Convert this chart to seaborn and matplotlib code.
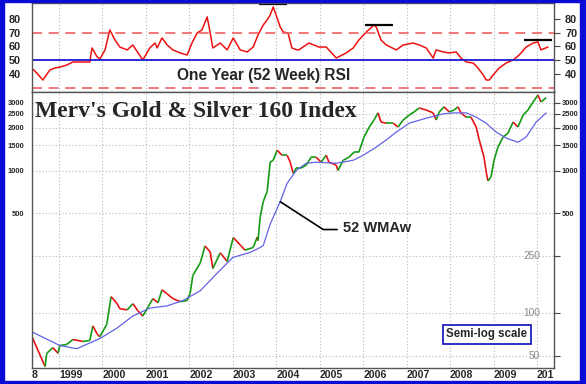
import numpy as np
import matplotlib
matplotlib.use('Agg')
import matplotlib.pyplot as plt
from matplotlib.patches import Rectangle
from matplotlib.ticker import NullLocator
import seaborn as sns

# ── Data (decimal years) ────────────────────────────────────────────
idx_year = [1998.38, 1998.68, 1998.72, 1998.86, 1998.98, 1999.02, 1999.18, 1999.32,
            1999.55, 1999.71, 1999.78, 1999.88, 1999.94, 2000.10, 2000.20, 2000.34,
            2000.40, 2000.57, 2000.70, 2000.82, 2000.93, 2001.05, 2001.16, 2001.28,
            2001.37, 2001.49, 2001.62, 2001.79, 2001.95, 2002.02, 2002.08, 2002.25,
            2002.36, 2002.48, 2002.54, 2002.71, 2002.87, 2003.01, 2003.17, 2003.28,
            2003.47, 2003.56, 2003.58, 2003.63, 2003.70, 2003.79, 2003.86, 2003.93,
            2004.02, 2004.13, 2004.25, 2004.32, 2004.39, 2004.46, 2004.57, 2004.69,
            2004.80, 2004.92, 2005.03, 2005.15, 2005.21, 2005.38, 2005.42, 2005.54,
            2005.67, 2005.79, 2005.90, 2006.02, 2006.14, 2006.25, 2006.34, 2006.41,
            2006.53, 2006.69, 2006.80, 2006.92, 2007.06, 2007.17, 2007.29, 2007.45,
            2007.61, 2007.68, 2007.75, 2007.86, 2007.98, 2008.09, 2008.18, 2008.25,
            2008.37, 2008.48, 2008.60, 2008.67, 2008.78, 2008.83, 2008.87, 2008.94,
            2009.01, 2009.10, 2009.22, 2009.33, 2009.45, 2009.56, 2009.68, 2009.79,
            2009.91, 2010.02, 2010.09, 2010.21]
idx_val = [68, 42, 52, 57, 52, 59, 60, 65,
           63, 64, 81, 71, 68, 83, 130, 116,
           107, 105, 116, 103, 95, 110, 126, 118,
           145, 136, 126, 120, 122, 138, 183, 224,
           295, 268, 205, 264, 230, 338, 300, 276,
           288, 340, 322, 470, 604, 713, 1144, 1180,
           1390, 1280, 1280, 1144, 955, 1040, 1040, 1090,
           1240, 1240, 1144, 1280, 1144, 1090, 1000, 1180,
           1240, 1345, 1345, 1720, 2020, 2265, 2540, 2190,
           2150, 2150, 2020, 2265, 2450, 2580, 2750, 2660,
           2540, 2265, 2580, 2800, 2580, 2660, 2800, 2540,
           2370, 2370, 2020, 1640, 1240, 975, 845, 900,
           1180, 1460, 1720, 1830, 2190, 2020, 2450, 2660,
           3030, 3390, 3030, 3250]

ma_year = [1998.38, 1999.02, 1999.41, 1999.94, 2000.33, 2000.70, 2001.09, 2001.49,
           2001.85, 2002.25, 2002.64, 2003.00, 2003.40, 2003.63, 2003.70, 2003.86,
           2004.09, 2004.25, 2004.46, 2004.69, 2004.92, 2005.38, 2005.77, 2006.00,
           2006.30, 2006.53, 2006.76, 2007.06, 2007.45, 2007.84, 2008.07, 2008.37,
           2008.60, 2008.83, 2009.06, 2009.29, 2009.56, 2009.75, 2009.98, 2010.21]
ma_val = [73.5, 59, 56, 66, 78, 95, 108, 112,
          122, 143, 190, 245, 266, 288, 297, 420,
          604, 813, 1000, 1125, 1144, 1125, 1180, 1280,
          1460, 1640, 1860, 2150, 2330, 2500, 2540, 2540,
          2370, 2150, 1860, 1690, 1580, 1720, 2190, 2540]

rsi_year = [1998.38, 1998.49, 1998.63, 1998.79, 1998.91, 1999.02, 1999.18, 1999.32,
            1999.55, 1999.71, 1999.76, 1999.88, 1999.94, 2000.06, 2000.17, 2000.29,
            2000.40, 2000.57, 2000.70, 2000.82, 2000.93, 2001.09, 2001.21, 2001.26,
            2001.37, 2001.49, 2001.62, 2001.79, 2001.95, 2002.06, 2002.18, 2002.29,
            2002.41, 2002.48, 2002.54, 2002.71, 2002.87, 2003.01, 2003.17, 2003.33,
            2003.47, 2003.58, 2003.70, 2003.79, 2003.86, 2003.93, 2004.02, 2004.09,
            2004.16, 2004.27, 2004.36, 2004.48, 2004.52, 2004.75, 2004.98, 2005.15,
            2005.38, 2005.61, 2005.77, 2005.90, 2006.07, 2006.25, 2006.30, 2006.41,
            2006.53, 2006.76, 2006.92, 2007.15, 2007.29, 2007.45, 2007.61, 2007.68,
            2007.84, 2007.98, 2008.14, 2008.25, 2008.37, 2008.53, 2008.64, 2008.76,
            2008.83, 2008.90, 2008.99, 2009.13, 2009.29, 2009.45, 2009.59, 2009.75,
            2009.91, 2010.02, 2010.09, 2010.25]
rsi_val = [44.1, 40.7, 35.6, 42.9, 44.4, 45.0, 46.5, 48.7,
           48.7, 48.7, 58.9, 52.4, 50.9, 57.5, 72.0, 64.7,
           59.6, 57.5, 61.1, 55.3, 50.2, 58.9, 62.5, 58.9,
           66.2, 61.1, 57.5, 55.3, 53.8, 62.5, 69.8, 72.0,
           81.5, 69.8, 58.9, 62.5, 57.5, 66.2, 57.5, 56.0,
           59.6, 68.4, 75.6, 79.3, 82.9, 88.7, 80.7, 74.2,
           70.5, 69.8, 58.9, 57.5, 57.5, 62.5, 59.6, 59.6,
           51.6, 55.3, 58.9, 64.7, 70.5, 75.6, 74.2, 64.7,
           61.1, 57.5, 61.1, 62.5, 61.1, 58.9, 51.6, 57.5,
           56.0, 55.3, 56.0, 51.6, 48.7, 48.0, 44.4, 39.3,
           35.6, 35.6, 39.3, 44.4, 48.0, 50.2, 53.8, 59.6,
           62.5, 63.3, 57.5, 59.6]

years = list(range(1999, 2011))
year_labels = [str(y) for y in years[:-1]] + ['201']
main_ticks = [50, 100, 250, 500, 1000, 1500, 2000, 2500, 3000]
main_labels = ['', '', '', '500', '1000', '1500', '2000', '2500', '3000']
inner_labels = [250, 100, 50]
rsi_ticks = [40, 50, 60, 70, 80]

# ── Figure layout (pixel based) ─────────────────────────────────────
W, H = 586, 384
sns.set_style('white')
plt.rcParams['font.family'] = ['Liberation Sans', 'DejaVu Sans']

fig = plt.figure(figsize=(W / 100, H / 100), dpi=100, facecolor='white')
fx = lambda px: px / W
fy = lambda py: 1 - py / H

X0, X1 = 32, 554
ax_rsi = fig.add_axes([fx(X0), fy(92), fx(X1) - fx(X0), fy(3) - fy(92)])
ax = fig.add_axes([fx(X0), fy(368), fx(X1) - fx(X0), fy(92) - fy(368)], sharex=ax_rsi)

xlim = (1998.38, 2010.39)

# ── RSI panel ───────────────────────────────────────────────────────
sns.lineplot(x=rsi_year, y=rsi_val, ax=ax_rsi, color='#ee1111', lw=1.1)
ax_rsi.axhline(70, color='#f06060', ls=(0, (6, 4)), lw=1.2)
ax_rsi.axhline(30, color='#f06060', ls=(0, (6, 4)), lw=1.2)
ax_rsi.axhline(50, color='#1a1ad0', lw=1.3)
ax_rsi.hlines([91, 75.9, 64.7], [2003.60, 2006.04, 2009.70], [2004.25, 2006.69, 2010.35],
              color='black', lw=1.6, clip_on=False)
ax_rsi.set_ylim(26.9, 91.6)
ax_rsi.set_yticks(rsi_ticks)
ax_rsi.yaxis.set_minor_locator(NullLocator())
ax_rsi.tick_params(axis='y', which='both', direction='out', length=4, width=0.8,
                   color='#444444', labelsize=7.8, pad=4, right=True, labelright=True)
ax_rsi.tick_params(axis='x', length=0, labelbottom=False)
for lab in ax_rsi.yaxis.get_majorticklabels():
    lab.set_fontweight('bold')
for t in ax_rsi.yaxis.get_major_ticks():
    t.label2.set_fontweight('bold')
ax_rsi.set_xlabel('')
ax_rsi.set_ylabel('')

# ── Main panel ──────────────────────────────────────────────────────
for i in range(1, len(idx_val)):
    c = '#139a13' if idx_val[i] >= idx_val[i - 1] else '#e41414'
    ax.plot(idx_year[i - 1:i + 1], idx_val[i - 1:i + 1], color=c, lw=1.2,
            solid_capstyle='butt')
sns.lineplot(x=ma_year, y=ma_val, ax=ax, color='#6262e6', lw=0.9)
ax.set_yscale('log')
ax.set_ylim(41, 3560)
ax.set_yticks(main_ticks)
ax.yaxis.set_minor_locator(NullLocator())
ax.set_yticklabels(main_labels)
ax.tick_params(axis='y', which='both', direction='out', length=4, width=0.8,
               color='#444444', labelsize=5.4, pad=1.5, right=True, labelright=True)
for v in inner_labels:
    ax.annotate(str(v), xy=(1, v), xycoords=('axes fraction', 'data'),
                xytext=(-10, 0), textcoords='offset points', ha='right', va='center',
                fontsize=7.3, color='#8a8a8a')
ax.set_xlim(*xlim)
ax.set_xticks([xlim[0]] + years)
ax.set_xticklabels(['8'] + year_labels, ha='left')
ax.tick_params(axis='x', direction='out', length=8, width=0.8, color='#444444',
               labelsize=7.6, pad=-6.8)
for t in ax.xaxis.get_major_ticks() + ax.yaxis.get_major_ticks():
    t.label1.set_fontweight('bold')
    t.label2.set_fontweight('bold')
ax.set_xlabel('')
ax.set_ylabel('')

for a in (ax, ax_rsi):
    a.grid(True, ls=(0, (1, 2)), color='#b8b8b8', lw=0.8)
    a.set_axisbelow(True)
    for s in a.spines.values():
        s.set_color('#555555')
        s.set_linewidth(1.0)
ax_rsi.yaxis.grid(False)

# ── Annotations ─────────────────────────────────────────────────────
ax.plot([2004.09, 2005.08, 2005.40], [604, 385, 385], color='black', lw=1.2)
fig.text(fx(343), fy(228), '52 WMAw', fontsize=10.5, fontweight='bold', va='center')
fig.text(fx(35), fy(117), "Merv's Gold & Silver 160 Index", family='Liberation Serif',
         fontsize=17, fontweight='bold', va='baseline')
fig.text(fx(177), fy(80), 'One Year (52 Week) RSI', fontsize=11.2, fontweight='bold',
         va='baseline')
fig.text(fx(487), fy(334.5), 'Semi-log scale', fontsize=8.3, fontweight='bold',
         ha='center', va='center',
         bbox=dict(boxstyle='square,pad=0.3', fc='white', ec='#2020c0', lw=1.3))

# blue frame around the picture
blue = '#0b0bd8'
for (x, y, w, h) in [(0, 0, 4, H), (0, 0, W, 2), (580, 0, 6, H), (0, 381, W, 3)]:
    fig.patches.append(Rectangle((fx(x), fy(y + h)), w / W, h / H,
                                 transform=fig.transFigure, color=blue, zorder=10))

fig.savefig('out.png', dpi=100)
